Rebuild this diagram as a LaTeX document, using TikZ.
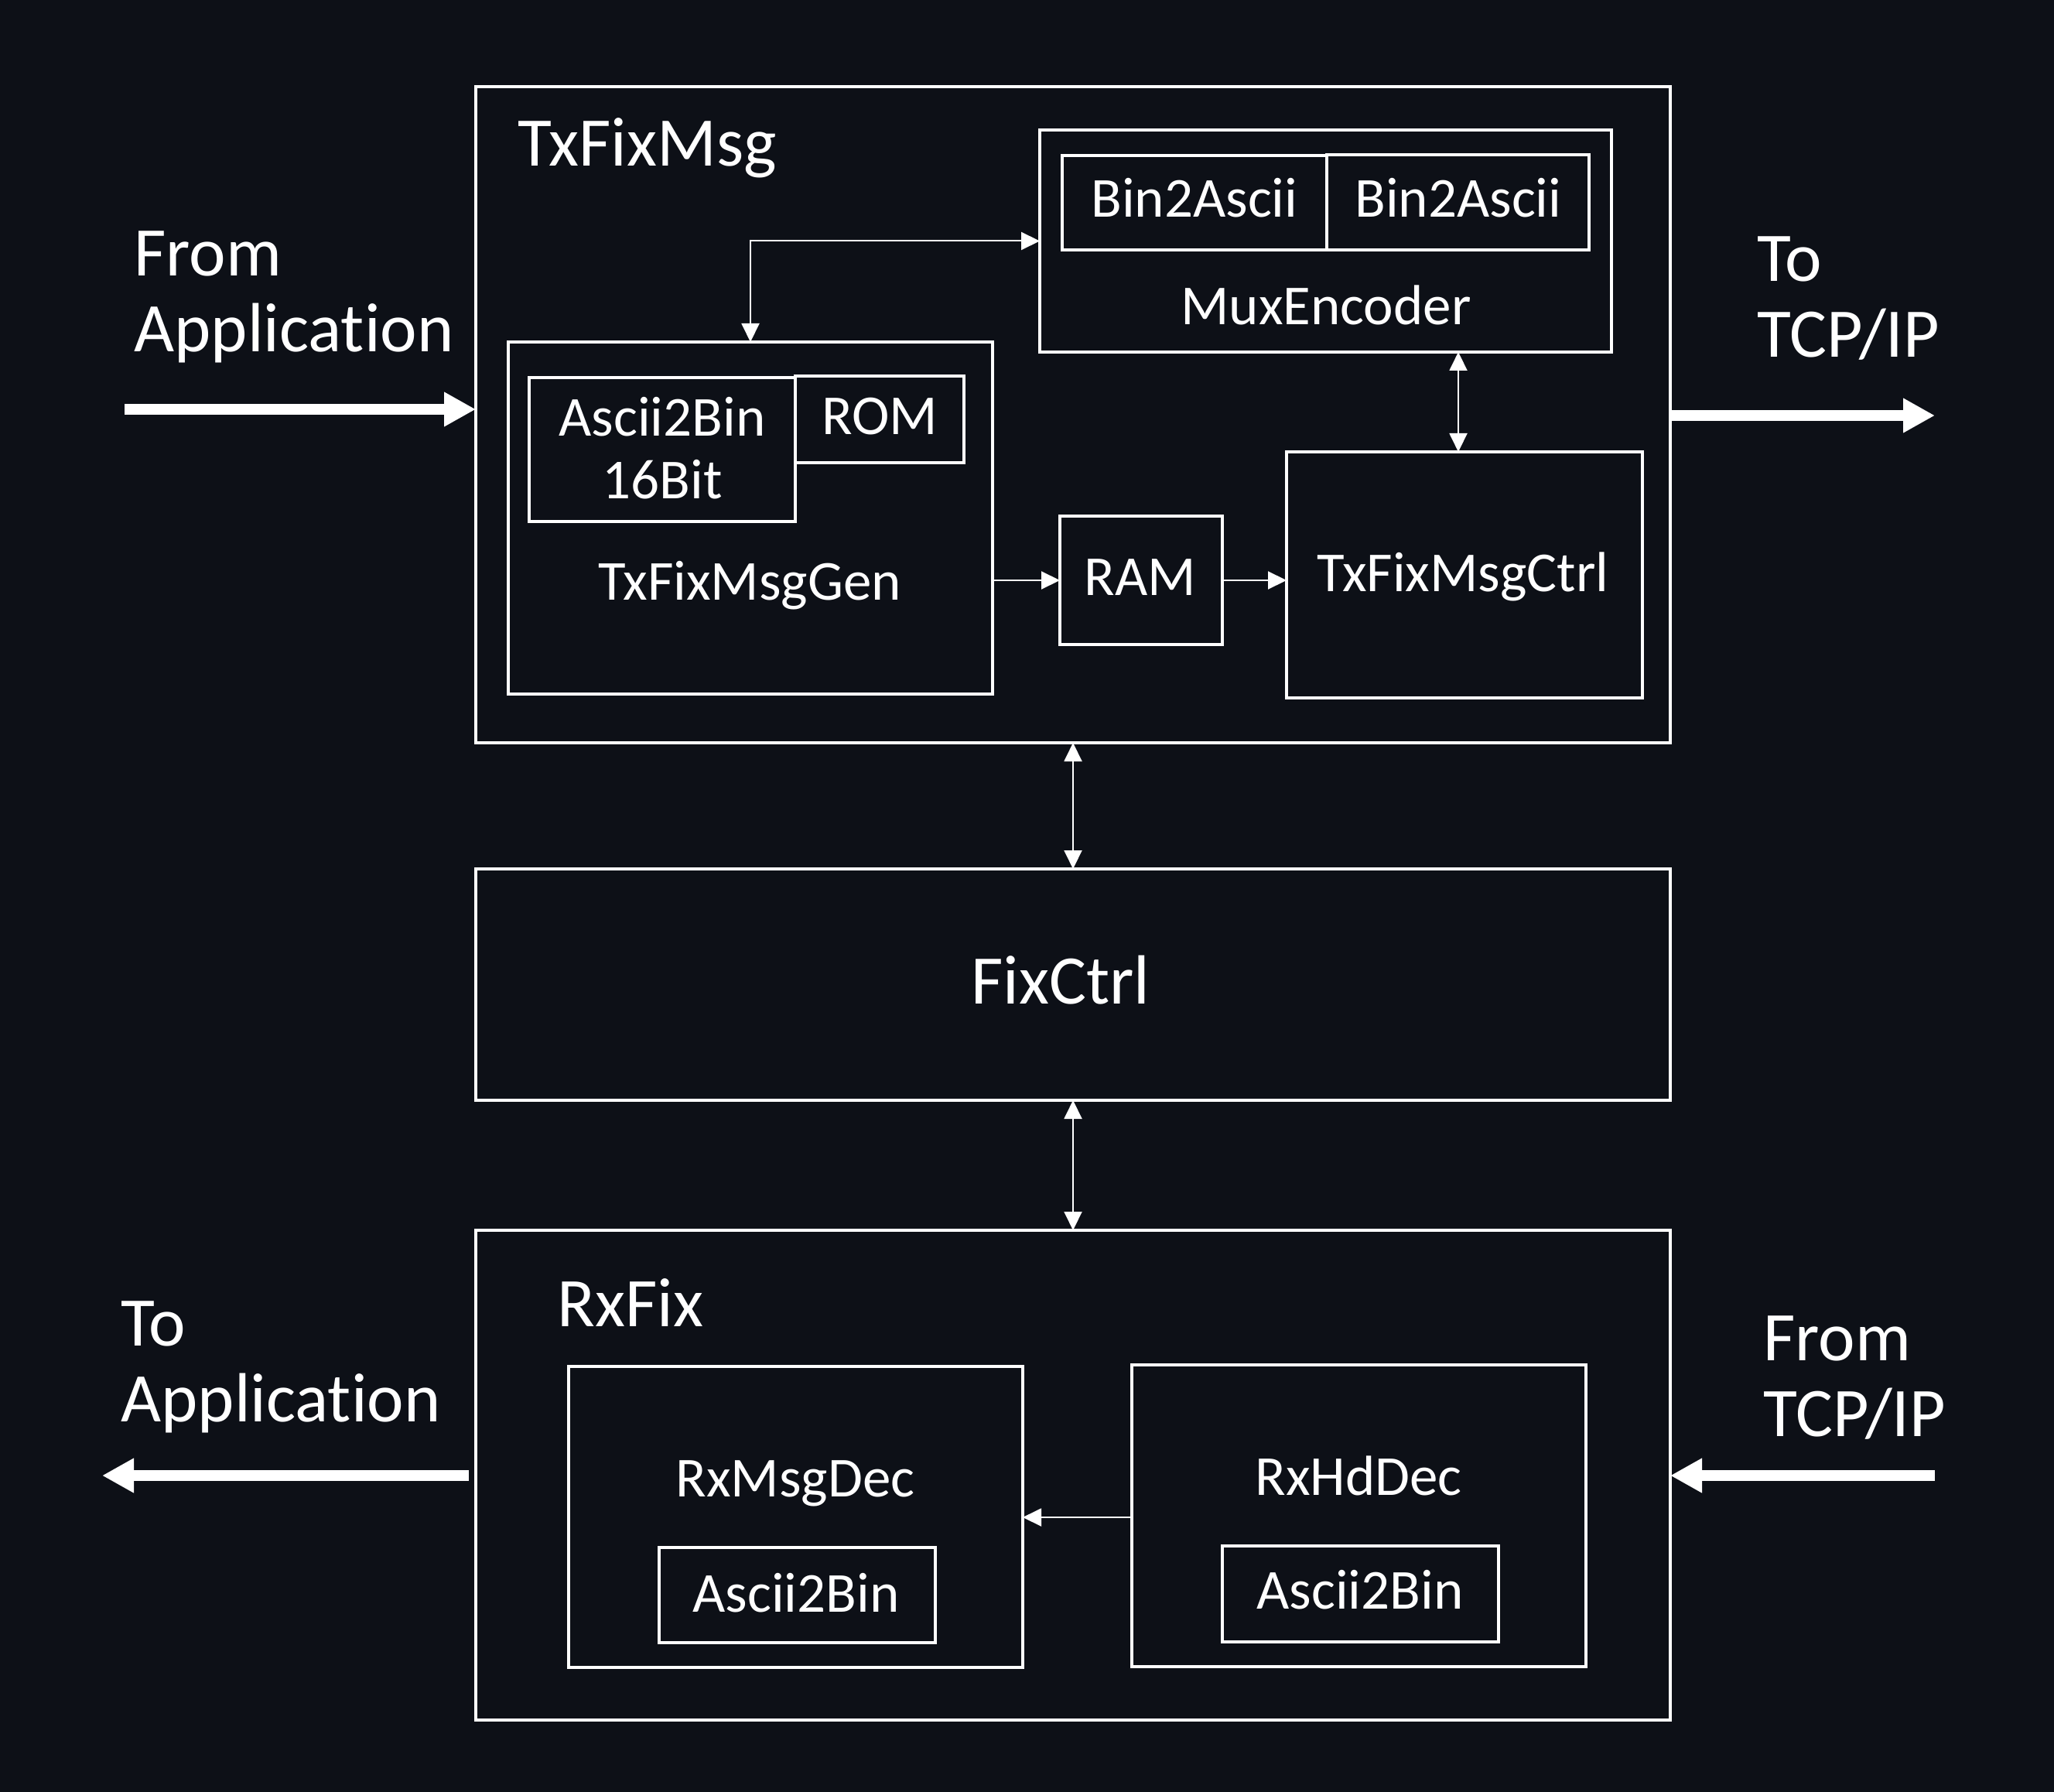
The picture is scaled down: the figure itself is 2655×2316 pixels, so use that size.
\documentclass[tikz,border=0pt]{standalone}
\usepackage{fontspec}
\setmainfont{Carlito}[Ligatures={NoCommon}]
\usetikzlibrary{arrows.meta,fit,calc}
\definecolor{bgc}{RGB}{13,16,23}
\begin{document}
\begin{tikzpicture}[x=0.5pt,y=-0.5pt,
  box/.style={draw=white,line width=1.6pt,inner sep=0pt,outer sep=0pt},
  lbl/.style={text=white,inner sep=0pt,font=\fontsize{36.5}{42}\selectfont},
  biglbl/.style={text=white,inner sep=0pt,align=left,font=\fontsize{45}{49}\selectfont},
  sarr/.style={draw=white,line width=1pt,{Triangle[length=12pt,width=11.5pt]}-{Triangle[length=12pt,width=11.5pt]}},
  oarr/.style={draw=white,line width=1pt,-{Triangle[length=12pt,width=11.5pt]}},
  barr/.style={draw=white,line width=7pt,-{Triangle[length=20.5pt,width=21pt]}}]
\fill[bgc] (0,0) rectangle (2655,2316);
\useasboundingbox (0,0) rectangle (2655,2316);

% TxFixMsg
\node[box,fit={(615,112) (2159,960)}] (tx) {};
\node[lbl,anchor=base west,font=\fontsize{45}{49}\selectfont] (txl) at (669,215) {TxFixMsg};
\node[box,fit={(1344,168) (2083,455)}] (mux) {};
\node[box,fit={(1373,201) (1715,323)}] (b2a1) {};
\node[box,fit={(1715,200) (2054,323)}] (b2a2) {};
\node[lbl,anchor=base] (b2a1l) at (1544,281) {Bin2Ascii};
\node[lbl,anchor=base] (b2a2l) at (1885,281) {Bin2Ascii};
\node[lbl,anchor=base] (muxl) at (1714,420) {MuxEncoder};
\node[box,fit={(657,442) (1283,897)}] (gen) {};
\node[box,fit={(684,488) (1028,674)}] (a2b) {};
\node[box,fit={(1028,486) (1246,598)}] (rom) {};
\node[lbl,anchor=base,align=center,font=\fontsize{36.5}{40.5}\selectfont] (a2bl) at (856,645) {Ascii2Bin\\16Bit};
\node[lbl,anchor=base] (roml) at (1137,562) {ROM};
\node[lbl,anchor=base] (genl) at (969,775) {TxFixMsgGen};
\node[box,fit={(1370,667) (1580,833)}] (ram) {};
\node[lbl,anchor=base] (raml) at (1474,769) {RAM};
\node[box,fit={(1663,584) (2123,902)}] (ctrl) {};
\node[lbl,anchor=base] (ctrll) at (1891,764) {TxFixMsgCtrl};

% FixCtrl
\node[box,fit={(615,1123) (2159,1422)}] (fix) {};
\node[lbl,anchor=base,font=\fontsize{45}{49}\selectfont] (fixl) at (1371,1297) {FixCtrl};

% RxFix
\node[box,fit={(615,1590) (2159,2223)}] (rx) {};
\node[lbl,anchor=base west,font=\fontsize{45}{49}\selectfont] (rxl) at (720,1714) {RxFix};
\node[box,fit={(735,1766) (1322,2155)}] (msg) {};
\node[box,fit={(852,2000) (1209,2123)}] (a2bm) {};
\node[lbl,anchor=base] (msgl) at (1028,1934) {RxMsgDec};
\node[lbl,anchor=base] (a2bml) at (1029,2083) {Ascii2Bin};
\node[box,fit={(1463,1764) (2050,2154)}] (hd) {};
\node[box,fit={(1580,1998) (1937,2122)}] (a2bh) {};
\node[lbl,anchor=base] (hdl) at (1756,1932) {RxHdDec};
\node[lbl,anchor=base] (a2bhl) at (1758,2079) {Ascii2Bin};

% outside labels (base = last line)
\node[biglbl,anchor=base west] (fal) at (173,455) {From\\Applicat\kern0pt ion};
\node[biglbl,anchor=base west] (ttl) at (2271,462) {To\\TCP/IP};
\node[biglbl,anchor=base west] (tal) at (156,1837) {To\\Applicat\kern0pt ion};
\node[biglbl,anchor=base west] (ftl) at (2279,1856) {From\\TCP/IP};

% internal connectors
\draw[sarr] (gen.north) |- (mux.west);
\draw[sarr] ([xshift=-4pt]ctrl.north) -- ([xshift=-4pt]ctrl.north |- mux.south);
\draw[oarr] (gen.east |- ram.west) -- (ram.west);
\draw[oarr] (ram.east) -- (ram.east -| ctrl.west);
\draw[sarr] (tx.south) -- (fix.north);
\draw[sarr] (fix.south) -- (rx.north);
\draw[oarr] ([yshift=-1pt]hd.west) -- ([yshift=-1pt]hd.west -| msg.east);

% external arrows
\coordinate (fa) at (161,529);
\coordinate (tt) at (2501,537);
\coordinate (ta) at (132,1907);
\coordinate (ft) at (2501,1907);
\draw[barr] (fa) -- (fa -| tx.west);
\draw[barr] (tt -| tx.east) -- (tt);
\draw[barr] ([xshift=-4.5pt]ta -| rx.west) -- (ta);
\draw[barr] (ft) -- (ft -| rx.east);
\end{tikzpicture}
\end{document}
